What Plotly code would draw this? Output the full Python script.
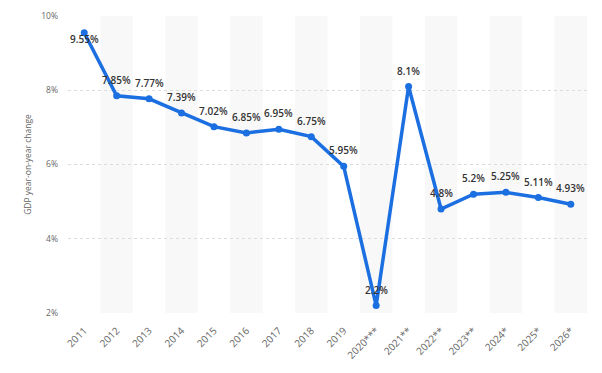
import plotly.graph_objects as go

years = ["2011", "2012", "2013", "2014", "2015", "2016", "2017", "2018", "2019",
         "2020***", "2021**", "2022**", "2023**", "2024*", "2025*", "2026*"]
growth = [9.55, 7.85, 7.77, 7.39, 7.02, 6.85, 6.95, 6.75, 5.95,
          2.2, 8.1, 4.8, 5.2, 5.25, 5.11, 4.93]
labels = [f"{v:g}%" for v in growth]
y_ticks = [2, 4, 6, 8, 10]
y_tick_text = ["2%", "4%", "6%", "8%", "10%"]

LINE = "#1b6fe0"
FONT = "Open Sans"

fig = go.Figure()
fig.add_trace(go.Scatter(
    x=years, y=growth, mode="lines+markers",
    line=dict(color=LINE, width=3.5),
    marker=dict(color=LINE, size=7),
    cliponaxis=False, hoverinfo="skip",
))

shapes = []
for i in range(len(years)):
    if i % 2 == 1:
        shapes.append(dict(type="rect", xref="x", yref="paper",
                           x0=i - 0.5, x1=i + 0.5, y0=0, y1=1,
                           fillcolor="#f8f8f8", line=dict(width=0), layer="below"))

annotations = []
for i, (v, t) in enumerate(zip(growth, labels)):
    shift = -6 if i == 0 else 16
    annotations.append(dict(x=i, y=v, xref="x", yref="y", text=t, showarrow=False,
                            yshift=shift,
                            font=dict(family=FONT, size=10, color="#333333", weight=600)))

fig.update_layout(
    width=602, height=373,
    margin=dict(l=68, r=15, t=16, b=60),
    paper_bgcolor="white", plot_bgcolor="white",
    showlegend=False,
    shapes=shapes, annotations=annotations,
    font=dict(family=FONT, color="#666666"),
    xaxis=dict(type="category", tickangle=-45, showgrid=False, zeroline=False,
               showline=False, ticks="", automargin=False, ticklabelstandoff=9,
               tickfont=dict(size=10, color="#666666"),
               range=[-0.5, len(years) - 0.5]),
    yaxis=dict(range=[2, 10], tickvals=y_ticks, ticktext=y_tick_text,
               showgrid=True, gridcolor="#dcdcdc", griddash="dot", gridwidth=1,
               zeroline=False, showline=False, ticks="", automargin=False,
               ticklabelstandoff=9,
               tickfont=dict(size=8.5, color="#666666"),
               title=dict(text="GDP year-on-year change", standoff=8,
                          font=dict(size=8.5, color="#666666"))),
)

fig.write_html("out.html", config={"displayModeBar": False},
               post_script="document.body.style.margin='0';document.body.style.overflow='hidden';")
